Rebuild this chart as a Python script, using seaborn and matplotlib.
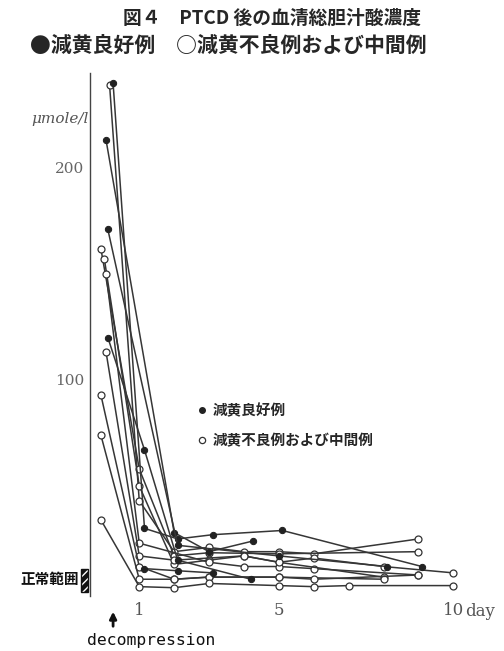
import pandas as pd
import numpy as np
import seaborn as sns
import matplotlib.pyplot as plt
from matplotlib.lines import Line2D
from matplotlib.patches import Rectangle

# serum total bile acid after PTCD (day, umol/l)
good_ids = ["F1", "F2", "F3", "F4", "F5"]
good_days = [
    [0.25, 1.15, 2.1, 3.1, 5.1, 9.1],
    [0.05, 2.0, 3.0, 4.25],
    [0.1, 2.1, 5.0, 8.1],
    [0.1, 1.15, 2.1, 4.2],
    [1.15, 2.1, 3.1],
]
good_vals = [
    [240, 30, 25, 27, 29, 12],
    [213, 28, 19, 24],
    [171, 22, 17, 12],
    [120, 67, 15, 6],
    [11, 10, 9],
]

poor_ids = ["O1", "O2", "O3", "O4", "O5", "O6", "O7", "O8"]
poor_days = [
    [0.15, 1.0, 2.0, 3.0, 4.0, 5.0, 6.0, 9.0],
    [-0.1, 1.0, 2.0, 3.0, 5.0, 9.0],
    [0.0, 1.0, 2.0, 3.0, 4.0, 5.0, 6.0, 8.0, 10.0],
    [0.05, 1.0, 3.0, 4.0, 5.0, 6.0, 9.0],
    [0.05, 1.0, 2.0, 4.0, 5.0, 8.0],
    [-0.1, 1.0, 2.0, 3.0, 5.0, 8.0],
    [-0.1, 1.0, 2.0, 3.0, 5.0, 6.0, 9.0],
    [-0.1, 1.0, 2.0, 3.0, 5.0, 6.0, 7.0, 10.0],
]
poor_vals = [
    [239, 43, 19, 21, 19, 19, 18, 25],
    [162, 58, 17, 18.5, 18, 19],
    [157, 50, 13, 15, 17, 14, 16, 12, 9],
    [150, 23, 14, 12, 12, 11, 8],
    [113, 17, 15, 17, 14, 7],
    [93, 12, 6, 7, 7, 6],
    [74, 6, 6, 7, 7, 6, 8],
    [34, 2.5, 2, 4, 3, 2.5, 3, 3],
]

ytick_pos = [0, 50, 100, 150, 200]
ytick_txt = ["", "", "100", "", "200"]
xtick_pos = [1, 5, 10]
xtick_txt = ["1", "5", "10"]


def to_long(ids, days, vals):
    rows = []
    for cid, d, v in zip(ids, days, vals):
        for x, y in zip(d, v):
            rows.append({"case": cid, "day": x, "value": y})
    return pd.DataFrame(rows)


df_good = to_long(good_ids, good_days, good_vals)
df_poor = to_long(poor_ids, poor_days, poor_vals)

sns.set_style("white")
plt.rcParams["font.family"] = ["Noto Sans CJK JP", "DejaVu Sans"]

fig = plt.figure(figsize=(5.04, 6.51), dpi=100)
ax = fig.add_axes([0.178, 0.0842, 0.756, 0.8043])

line_col = "#363636"
sns.lineplot(data=df_poor, x="day", y="value", units="case", estimator=None,
             sort=False, color=line_col, lw=1.1, marker="o", markersize=5,
             markerfacecolor="white", markeredgecolor="#333", markeredgewidth=0.9,
             legend=False, ax=ax)
sns.lineplot(data=df_good, x="day", y="value", units="case", estimator=None,
             sort=False, color=line_col, lw=1.1, marker="o", markersize=4.5,
             markerfacecolor="#222", markeredgecolor="#222",
             legend=False, ax=ax)

ax.set_xlim(-0.42, 10.5)
ax.set_ylim(-2, 245)
for s in ["top", "right", "bottom"]:
    ax.spines[s].set_visible(False)
ax.spines["left"].set_color("#444")
ax.spines["left"].set_linewidth(1.0)

ax.set_yticks(ytick_pos)
ax.set_yticklabels(ytick_txt, family="DejaVu Serif", color="#666", fontsize=11)
ax.tick_params(axis="y", length=3, width=0.8, color="#444", pad=1)
ax.set_xticks(xtick_pos)
ax.set_xticklabels(xtick_txt, family="DejaVu Serif", color="#555", fontsize=12)
ax.tick_params(axis="x", length=0, pad=4)
ax.set_xlabel("")
ax.set_ylabel("")
ax.text(10.33, -5.4, "day", family="DejaVu Serif", color="#555", fontsize=12,
        ha="left", va="top")

# unit label
ax.text(-0.45, 223, "μmole/l", family="DejaVu Serif", style="italic",
        color="#555", fontsize=11, ha="right", va="center")

# normal range marker
ax.add_patch(Rectangle((-0.68, 0), 0.2, 11, facecolor="#111", edgecolor="white",
                       hatch="////", lw=0, clip_on=False))
ax.add_patch(Rectangle((-0.68, 0), 0.2, 11, facecolor="none", edgecolor="#111",
                       lw=1, clip_on=False))
ax.text(-0.72, 6, "正常範囲", fontsize=10.5, fontweight="bold", ha="right",
        va="center", color="#111")

# decompression arrow
ax.annotate("", xy=(0.25, -8), xytext=(0.25, -17.5), xycoords="data",
            arrowprops=dict(arrowstyle="-|>", color="#111", lw=2.0, mutation_scale=10),
            annotation_clip=False)
fig.text(87 / 504, 1 - 640 / 651, "decompression", family="DejaVu Sans Mono",
         fontsize=11.8, ha="left", va="center", color="#111")

# in-plot legend
handles = [
    Line2D([], [], ls="none", marker="o", markersize=4, markerfacecolor="#222",
           markeredgecolor="#222"),
    Line2D([], [], ls="none", marker="o", markersize=4.5, markerfacecolor="white",
           markeredgecolor="#333", markeredgewidth=0.9),
]
ax.legend(handles, ["減黄良好例", "減黄不良例および中間例"], loc="upper left",
          bbox_to_anchor=(0.25, 0.395), frameon=False, handlelength=0.6,
          handletextpad=0.4, labelspacing=0.95, prop={"size": 10.5, "weight": "bold"})

fig.text(272 / 504, 1 - 18 / 651, "図４　PTCD 後の血清総胆汁酸濃度", fontsize=13.5,
         fontweight="bold", ha="center", va="center")
fig.text(30 / 504, 1 - 45 / 651, "●減黄良好例　○減黄不良例および中間例",
         fontsize=15, fontweight="bold", ha="left", va="center")

fig.savefig("out.png", dpi=100)
